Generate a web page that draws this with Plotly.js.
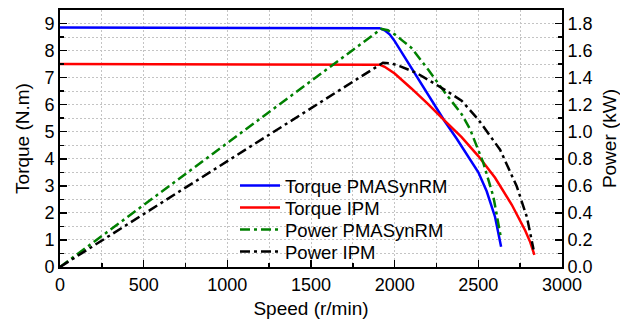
<!DOCTYPE html>
<html>
<head>
<meta charset="utf-8">
<script src="https://cdn.plot.ly/plotly-3.0.1.min.js"></script>
<style>html,body{margin:0;padding:0;background:#fff;}#chart{width:620px;height:325px;}</style>
</head>
<body>
<div id="chart"></div>
<script>
// Torque PMASynRM (N.m) vs speed (r/min)
const speedTorquePMA = [0, 1880, 1910, 1940, 1970, 2000, 2050, 2100, 2200, 2300, 2370, 2410, 2450, 2500, 2550, 2600, 2636];
const torquePMA      = [8.85, 8.85, 8.83, 8.75, 8.6, 8.35, 7.85, 7.35, 6.38, 5.38, 4.75, 4.38, 4.0, 3.5, 2.8, 1.85, 0.75];
// Torque IPM (N.m)
const speedTorqueIPM = [0, 1880, 1910, 1940, 1970, 2000, 2100, 2200, 2300, 2400, 2500, 2600, 2700, 2740, 2780, 2810, 2835];
const torqueIPM      = [7.5, 7.5, 7.48, 7.4, 7.28, 7.15, 6.6, 6.02, 5.4, 4.8, 4.1, 3.3, 2.3, 1.85, 1.35, 0.92, 0.45];
// Power PMASynRM (kW)
const speedPowerPMA = [0, 1920, 1960, 2000, 2050, 2100, 2200, 2300, 2400, 2450, 2530, 2590, 2636];
const powerPMA      = [0, 1.76, 1.75, 1.72, 1.67, 1.62, 1.46, 1.29, 1.13, 1.02, 0.77, 0.52, 0.21];
// Power IPM (kW)
const speedPowerIPM = [0, 1930, 1980, 2030, 2130, 2300, 2400, 2500, 2630, 2730, 2790, 2830];
const powerIPM      = [0, 1.51, 1.505, 1.485, 1.435, 1.31, 1.23, 1.09, 0.867, 0.595, 0.37, 0.13];

const seriesNames = ["Torque PMASynRM", "Torque IPM", "Power PMASynRM", "Power IPM"];

const FONT = "Liberation Sans, Arial, sans-serif";
const gridc = "#c4c4c4";
const DASHDOT = "10px,4px,3px,4px";

const traces = [
  {x: speedTorquePMA, y: torquePMA, name: seriesNames[0], mode: "lines", legend: "legend",
   line: {color: "#0000ff", width: 2.5}},
  {x: speedTorqueIPM, y: torqueIPM, name: seriesNames[1], mode: "lines", legend: "legend2",
   line: {color: "#ff0000", width: 2.5}},
  {x: speedPowerPMA, y: powerPMA, name: seriesNames[2], mode: "lines", yaxis: "y2", legend: "legend3",
   line: {color: "#008000", width: 2.5, dash: DASHDOT}},
  {x: speedPowerIPM, y: powerIPM, name: seriesNames[3], mode: "lines", yaxis: "y2", legend: "legend4",
   line: {color: "#000000", width: 2.5, dash: DASHDOT}}
];

function leg(yc) {
  return {x: 0.3486, y: yc, xanchor: "left", yanchor: "middle",
          bgcolor: "rgba(0,0,0,0)", borderwidth: 0, itemwidth: 40,
          font: {family: FONT, size: 18.5, color: "#000"}};
}

const layout = {
  width: 620, height: 325,
  margin: {l: 60, r: 58, t: 10, b: 58},
  paper_bgcolor: "#fff", plot_bgcolor: "#fff",
  font: {family: FONT, size: 18, color: "#000"},
  showlegend: true,
  legend: leg(0.315),
  legend2: leg(0.2296),
  legend3: leg(0.144),
  legend4: leg(0.0584),
  xaxis: {
    range: [0, 3000], dtick: 500, tick0: 0,
    ticks: "inside", ticklen: 7, tickwidth: 1.5, tickcolor: "#000",
    showline: true, linecolor: "#000", linewidth: 2, mirror: true,
    showgrid: true, gridcolor: gridc, griddash: "2px,2px", gridwidth: 1,
    zeroline: false,
    minor: {dtick: 250, ticks: "inside", ticklen: 4, tickcolor: "#000",
            showgrid: true, gridcolor: gridc, griddash: "2px,2px"},
    title: {text: "Speed (r/min)", font: {family: FONT, size: 19}, standoff: 8}
  },
  yaxis: {
    range: [0, 9.5], dtick: 1, tick0: 0,
    ticks: "inside", ticklen: 7, tickwidth: 1.5, tickcolor: "#000",
    showline: true, linecolor: "#000", linewidth: 2,
    showgrid: true, gridcolor: gridc, griddash: "2px,2px", gridwidth: 1,
    zeroline: false,
    minor: {dtick: 0.5, ticks: "inside", ticklen: 4, tickcolor: "#000",
            showgrid: true, gridcolor: gridc, griddash: "2px,2px"},
    title: {text: "Torque (N.m)", font: {family: FONT, size: 19}, standoff: 10}
  },
  yaxis2: {
    overlaying: "y", side: "right",
    range: [0, 1.9], dtick: 0.2, tick0: 0, tickformat: ".1f",
    ticks: "inside", ticklen: 7, tickwidth: 1.5, tickcolor: "#000",
    showline: true, linecolor: "#000", linewidth: 2,
    showgrid: false, zeroline: false,
    minor: {dtick: 0.1, ticks: "inside", ticklen: 4, tickcolor: "#000"},
    title: {text: "Power (kW)", font: {family: FONT, size: 19}, standoff: 11}
  }
};

Plotly.newPlot("chart", traces, layout, {displayModeBar: false, staticPlot: true});
</script>
</body>
</html>
